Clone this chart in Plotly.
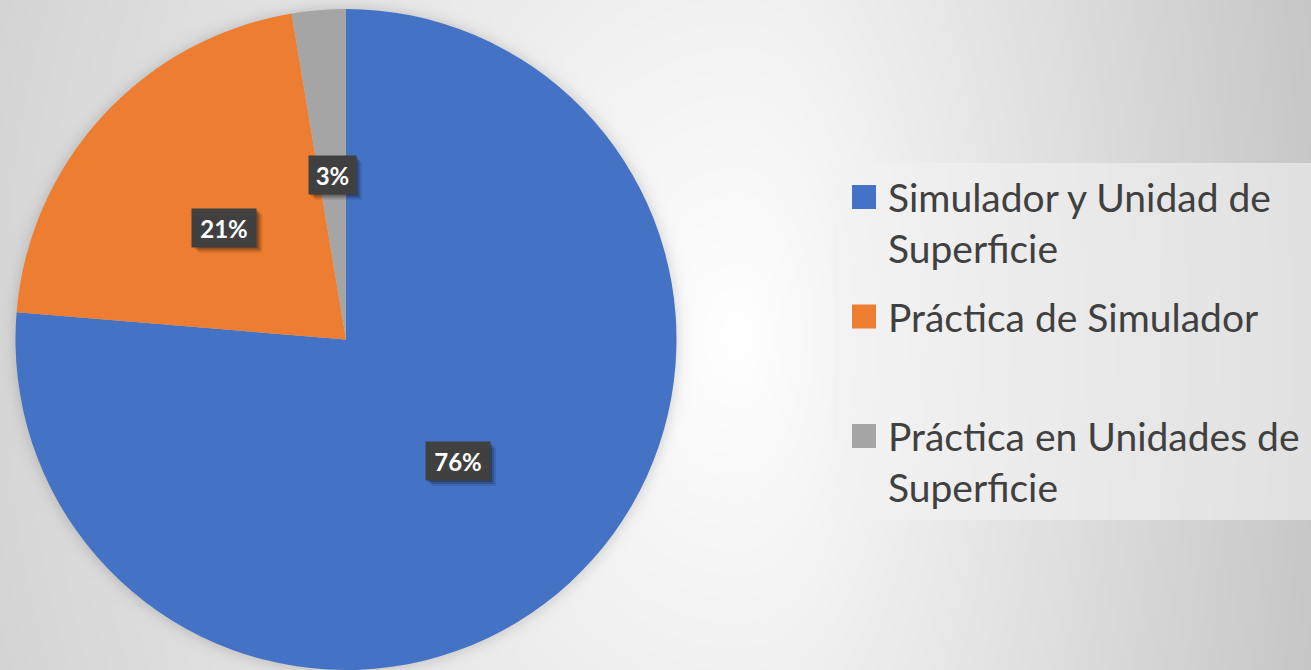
import base64
import struct
import zlib
import math
import numpy as np
import plotly.graph_objects as go

# ---------------- data ----------------
categories = ["Simulador y Unidad de Superficie",
              "Práctica de Simulador",
              "Práctica en Unidades de Superficie"]
legend_text = ["Simulador y Unidad de<br>Superficie",
               "Práctica de Simulador",
               "Práctica en Unidades de<br>Superficie"]
values = [29, 8, 1]
colors = ["#4472C4", "#ED7D31", "#A5A5A5"]

# ---------------- geometry / style ----------------
W, H = 1311, 670
CX, CY, R = 346.0, 339.5, 330.5
FONT = "Lato"


def px2x(px):
    return px / W


def px2y(py):
    return 1 - py / H


# ---------------- background (gradient + soft pie shadow) ----------------
yy, xx = np.mgrid[0:H, 0:W].astype(float)
gcx, gcy = 740.0, 335.0
rx = np.where(xx >= gcx, 650.0, 1150.0)
d = np.sqrt(((xx - gcx) / rx) ** 2 + ((yy - gcy) / 1500.0) ** 2)
bg = 255.0 - 62.5 * d ** 1.0
dist = np.sqrt((xx - CX) ** 2 + (yy - CY) ** 2)
shadow = 30.0 / (1.0 + np.exp((dist - R - 3.0) / 3.5))
bg = np.clip(bg - shadow, 0, 255).astype(np.uint8)


def png_gray(arr):
    h, w = arr.shape
    sub = arr.astype(np.int16)
    filt = np.empty_like(arr)
    filt[:, 0] = arr[:, 0]
    filt[:, 1:] = ((sub[:, 1:] - sub[:, :-1]) % 256).astype(np.uint8)
    raw = b"".join(b"\x01" + filt[i].tobytes() for i in range(h))

    def chunk(t, dd):
        c = struct.pack(">I", len(dd)) + t + dd
        return c + struct.pack(">I", zlib.crc32(t + dd) & 0xFFFFFFFF)

    ihdr = struct.pack(">IIBBBBB", w, h, 8, 0, 0, 0, 0)
    return (b"\x89PNG\r\n\x1a\n" + chunk(b"IHDR", ihdr)
            + chunk(b"IDAT", zlib.compress(raw, 9)) + chunk(b"IEND", b""))


bg_src = "data:image/png;base64," + base64.b64encode(png_gray(bg)).decode()

# ---------------- figure ----------------
fig = go.Figure()
fig.add_trace(go.Pie(
    labels=categories,
    values=values,
    sort=False,
    direction="clockwise",
    rotation=0,
    marker=dict(colors=colors, line=dict(width=0)),
    textinfo="none",
    hoverinfo="label+percent",
    showlegend=False,
    domain=dict(x=[px2x(CX - R), px2x(CX + R)],
                y=[px2y(CY + R), px2y(CY - R)]),
))

shapes = []
annotations = []

# data labels at half radius, mid-angle of each slice
total = float(sum(values))
cum = 0.0
for v in values:
    frac = v / total
    mid = (cum + frac / 2) * 2 * math.pi
    cum += frac
    lx = CX + 0.5 * R * math.sin(mid)
    ly = CY - 0.5 * R * math.cos(mid)
    txt = f"{round(frac * 100)}%"
    bw = 13 + 17 * len(txt)
    bh = 38
    for off, alpha in [(6, 0.10), (4, 0.18), (2, 0.22)]:
        shapes.append(dict(type="rect", xref="paper", yref="paper", layer="above",
                           x0=px2x(lx - bw / 2 + off), x1=px2x(lx + bw / 2 + off),
                           y0=px2y(ly + bh / 2 + off), y1=px2y(ly - bh / 2 + off),
                           fillcolor=f"rgba(0,0,0,{alpha})", line=dict(width=0)))
    annotations.append(dict(x=px2x(lx), y=px2y(ly), xref="paper", yref="paper",
                            text=f"<b>{txt}</b>", showarrow=False,
                            xanchor="center", yanchor="middle",
                            width=bw, height=bh, borderpad=0,
                            bgcolor="#404040",
                            font=dict(family=FONT, size=24, color="white")))

# custom legend
shapes.append(dict(type="rect", xref="paper", yref="paper", layer="above",
                   x0=px2x(833), x1=px2x(1320), y0=px2y(520), y1=px2y(163),
                   fillcolor="rgba(242,242,242,0.6)", line=dict(width=0)))
for i, (txt, col) in enumerate(zip(legend_text, colors)):
    yc = 197 + 119.5 * i
    shapes.append(dict(type="rect", xref="paper", yref="paper", layer="above",
                       x0=px2x(852), x1=px2x(876), y0=px2y(yc + 12), y1=px2y(yc - 12),
                       fillcolor=col, line=dict(width=0)))
    for j, line in enumerate(txt.split("<br>")):
        annotations.append(dict(x=px2x(886), y=px2y(yc + 51 * j), xref="paper", yref="paper",
                                text=line, showarrow=False,
                                xanchor="left", yanchor="middle",
                                font=dict(family=FONT, size=39, color="#404040")))

fig.update_layout(
    width=W, height=H,
    margin=dict(l=0, r=0, t=0, b=0),
    paper_bgcolor="#e6e6e6",
    plot_bgcolor="rgba(0,0,0,0)",
    shapes=shapes,
    annotations=annotations,
    images=[dict(source=bg_src, xref="paper", yref="paper", x=0, y=1,
                 sizex=1, sizey=1, sizing="stretch", xanchor="left", yanchor="top",
                 layer="below")],
    showlegend=False,
)

fig.write_html("out.html",
               config={"displayModeBar": False},
               post_script="document.body.style.margin='0';"
                           "document.body.style.overflow='hidden';")
